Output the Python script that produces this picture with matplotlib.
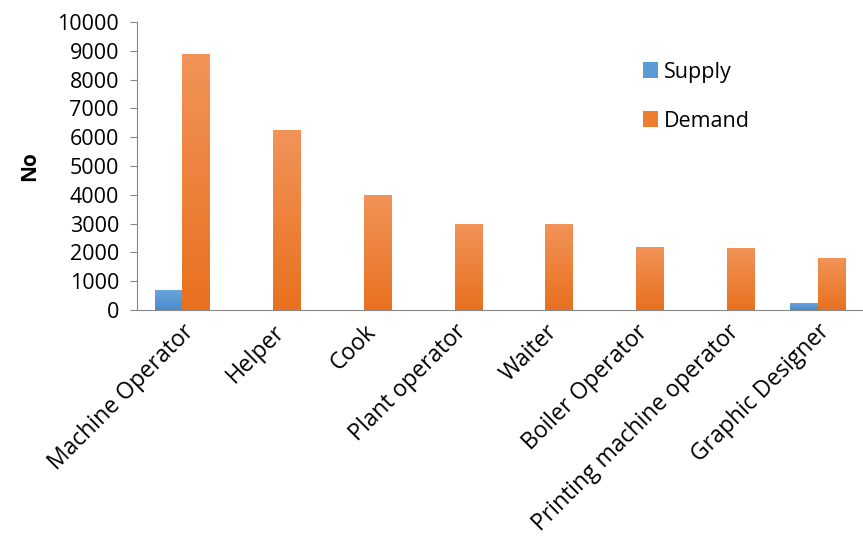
import numpy as np
import matplotlib.pyplot as plt
from matplotlib.colors import LinearSegmentedColormap
from matplotlib.patches import Patch

plt.rcParams['font.family'] = ['Open Sans', 'DejaVu Sans']

jobs = ["Machine Operator", "Helper", "Cook", "Plant operator", "Waiter",
        "Boiler Operator", "Printing machine operator", "Graphic Designer"]
supply = [700, 0, 0, 0, 0, 0, 0, 250]
demand = [8900, 6250, 4000, 3000, 3000, 2200, 2150, 1800]


def gradient_bars(ax, bars, top_col, bot_col):
    # excel-style vertical gradient fill, clipped to each bar
    cmap = LinearSegmentedColormap.from_list("g", [bot_col, top_col])
    grad = np.linspace(0, 1, 256).reshape(-1, 1)
    for b in bars:
        h = b.get_height()
        if h <= 0:
            continue
        x0 = b.get_x()
        w = b.get_width()
        im = ax.imshow(grad, cmap=cmap, origin="lower", aspect="auto",
                       extent=[x0, x0 + w, 0, h], zorder=b.get_zorder())
        im.set_clip_path(b)
        b.set_facecolor("none")


fig = plt.figure(figsize=(8.63, 5.44), dpi=100)
ax = fig.add_axes([137 / 863, 1 - 310 / 544, (863 - 137) / 863, (310 - 22) / 544])

x = np.arange(len(jobs))
w = 0.3
b1 = ax.bar(x - w / 2, supply, w, color="#5B9BD5", label="Supply", zorder=2)
b2 = ax.bar(x + w / 2, demand, w, color="#ED7D31", label="Demand", zorder=2)
gradient_bars(ax, b1, "#6AA6DE", "#4A8BC9")
gradient_bars(ax, b2, "#F29358", "#E8711F")

ax.set_xlim(-0.5, len(jobs) - 0.5)
ax.set_ylim(0, 10000)
ax.set_yticks(range(0, 10001, 1000))
ax.set_xticks(x)
ax.set_xticklabels(jobs, rotation=45, ha="right", rotation_mode="anchor")
ax.tick_params(axis="x", length=0, labelsize=16.5, pad=7)
ax.tick_params(axis="y", labelsize=15.5, length=5, color="#888888", pad=8)
for s in ["top", "right"]:
    ax.spines[s].set_visible(False)
ax.spines["left"].set_color("#888888")
ax.spines["bottom"].set_color("#888888")
ax.set_ylabel("No", fontsize=15, fontweight="bold", labelpad=12)

handles = [Patch(facecolor="#5B9BD5"), Patch(facecolor="#ED7D31")]
ax.legend(handles, ["Supply", "Demand"], loc="upper left",
          bbox_to_anchor=(0.67, 0.93), frameon=False, fontsize=15.5,
          handlelength=0.7, handleheight=0.7, handletextpad=0.3,
          labelspacing=1.3)

fig.savefig("out.png", dpi=100)
